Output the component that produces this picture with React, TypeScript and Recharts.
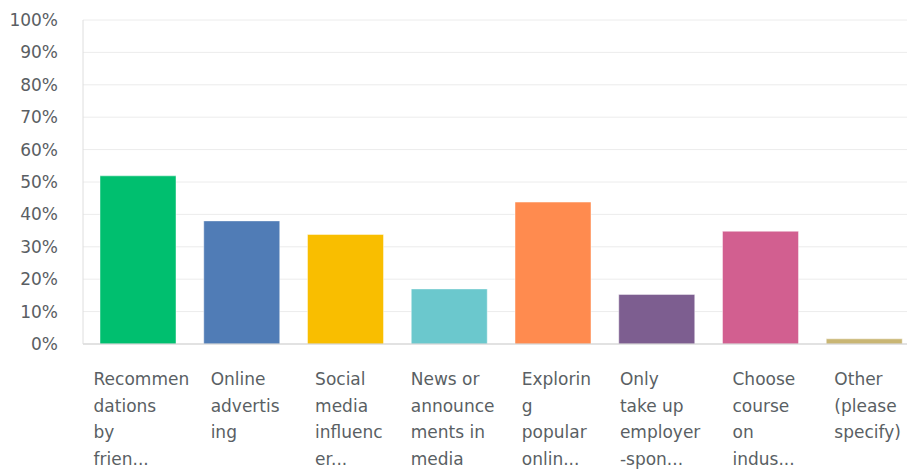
import React from 'react';
import { BarChart, Bar, XAxis, YAxis, CartesianGrid, Cell } from 'recharts';

const categories = [
  'Recommendations by friends',
  'Online advertising',
  'Social media influencer',
  'News or announcements in media',
  'Exploring popular online',
  'Only take up employer-sponsored',
  'Choose course on industry',
  'Other (please specify)',
];

// wrapped label lines as shown under each bar
const labelLines = [
  ['Recommen', 'dations', 'by', 'frien...'],
  ['Online', 'advertis', 'ing'],
  ['Social', 'media', 'influenc', 'er...'],
  ['News or', 'announce', 'ments in', 'media'],
  ['Explorin', 'g', 'popular', 'onlin...'],
  ['Only', 'take up', 'employer', '-spon...'],
  ['Choose', 'course', 'on', 'indus...'],
  ['Other', '(please', 'specify)'],
];

const values = [51.9, 38.0, 33.8, 17.0, 43.8, 15.3, 34.8, 1.6];

const colors = ['#00bf6f', '#507cb6', '#f9be00', '#6bc8cd', '#ff8b4f', '#7d5e90', '#d25f90', '#c9b674'];

const yTicks = [0, 10, 20, 30, 40, 50, 60, 70, 80, 90, 100];

const FONT = '"DejaVu Sans", sans-serif';
const FONT_SIZE = 17;

const data = categories.map((name, i) => ({ name, value: values[i], idx: i }));

let ctx: CanvasRenderingContext2D | null = null;
const measure = (s: string) => {
  if (!ctx) ctx = document.createElement('canvas').getContext('2d');
  if (!ctx) return s.length * 10;
  ctx.font = `${FONT_SIZE}px "DejaVu Sans"`;
  return ctx.measureText(s).width;
};

const WrappedTick = (props: any) => {
  const { x, y, index } = props;
  const lines = labelLines[index] || [];
  const w = Math.max(...lines.map(measure));
  const left = x + 3.5 - w / 2;
  return (
    <text x={left} y={y + 33} fill="#5a5f64" fontSize={FONT_SIZE} fontFamily={FONT} textAnchor="start">
      {lines.map((l, i) => (
        <tspan key={i} x={left} dy={i === 0 ? 0 : 26.7}>{l}</tspan>
      ))}
    </text>
  );
};

export default function App() {
  return (
    <div style={{ position: 'absolute', left: 0, top: 0, width: 907, height: 470, overflow: 'hidden', background: '#fff' }}>
      <BarChart width={916} height={470} data={data} margin={{ top: 20, right: 0, left: 0, bottom: 0 }}>
        <CartesianGrid vertical={false} stroke="#ececec" strokeWidth={1} />
        <XAxis
          dataKey="name"
          interval={0}
          height={126}
          padding={{ left: 3, right: 0 }}
          axisLine={{ stroke: '#cfcfcf' }}
          tickLine={false}
          tick={<WrappedTick />}
        />
        <YAxis
          width={83}
          domain={[0, 100]}
          ticks={yTicks}
          tickFormatter={(v: number) => `${v}%`}
          axisLine={{ stroke: '#dedede' }}
          tickLine={false}
          tickSize={6}
          tickMargin={19}
          tick={{ fill: '#5a5e63', fontSize: FONT_SIZE, fontFamily: FONT }}
        />
        <Bar dataKey="value" barSize={76} isAnimationActive={false} stroke="rgba(255,255,255,0.45)" strokeWidth={1}>
          {data.map((d) => (
            <Cell key={d.idx} fill={colors[d.idx]} />
          ))}
        </Bar>
      </BarChart>
    </div>
  );
}
